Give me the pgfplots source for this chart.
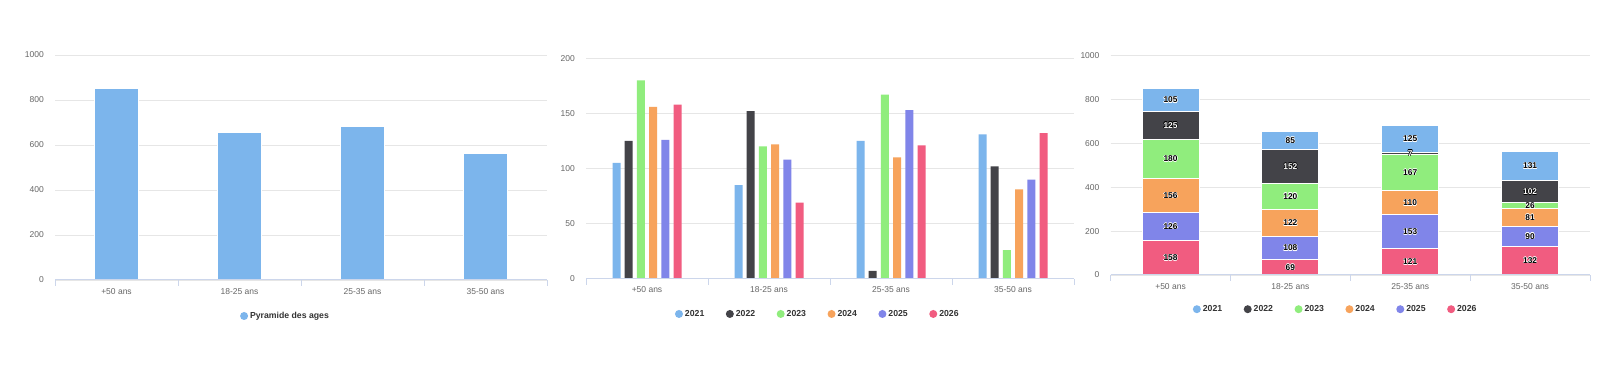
\documentclass[border=0pt]{standalone}
\usepackage{fontspec}
\setmainfont{Liberation Sans}
\usepackage{pgfplots}
\pgfplotsset{compat=1.18}
\usepackage{pgfplotstable}
\definecolor{c21}{HTML}{7CB5EC}
\definecolor{c22}{HTML}{434348}
\definecolor{c23}{HTML}{90ED7D}
\definecolor{c24}{HTML}{F7A35C}
\definecolor{c25}{HTML}{8085E9}
\definecolor{c26}{HTML}{F15C80}
\definecolor{gridc}{HTML}{E6E6E6}
\definecolor{axc}{HTML}{CCD6EB}
\definecolor{tickc}{HTML}{666666}
\definecolor{legc}{HTML}{333333}

\newcommand\olt[3]{%
  \rlap{\kern-0.45pt\textcolor{#2}{#3}}%
  \rlap{\kern0.45pt\textcolor{#2}{#3}}%
  \rlap{\raisebox{0.45pt}{\textcolor{#2}{#3}}}%
  \rlap{\raisebox{-0.45pt}{\textcolor{#2}{#3}}}%
  \rlap{\kern0.32pt\raisebox{0.32pt}{\textcolor{#2}{#3}}}%
  \rlap{\kern-0.32pt\raisebox{0.32pt}{\textcolor{#2}{#3}}}%
  \rlap{\kern0.32pt\raisebox{-0.32pt}{\textcolor{#2}{#3}}}%
  \rlap{\kern-0.32pt\raisebox{-0.32pt}{\textcolor{#2}{#3}}}%
  \textcolor{#1}{#3}}

\pgfplotstableread{
idx total y2021 y2022 y2023 y2024 y2025 y2026
0 850 105 125 180 156 126 158
1 656 85 152 120 122 108 69
2 683 125 7 167 110 153 121
3 562 131 102 26 81 90 132
}\agedata

\pgfplotsset{
  circleleg/.style={legend image code/.code={\fill[##1, draw=none] (0pt,0pt) circle (4pt);}},
  common/.style={
    scale only axis, anchor=south west,
    xmin=-0.5, xmax=3.5, ymin=0,
    axis line style={draw=none},
    ymajorgrids, grid style={gridc, line width=0.8pt},
    xtick={-0.5,0.5,1.5,2.5,3.5},
    xticklabels={+50 ans,18-25 ans,25-35 ans,35-50 ans},
    x tick label as interval,
    xtick pos=left, ytick pos=left,
    tick align=outside, major tick length=6pt,
    xtick style={draw=axc, line width=0.8pt},
    ytick style={draw=none},
    tick label style={font=\fontsize{8.5}{10}\selectfont, text=tickc},
    xticklabel style={inner sep=0pt, yshift=-2pt},
    yticklabel style={inner sep=0pt, xshift=-5pt},
    after end axis/.code={\draw[axc, line width=1pt] (rel axis cs:0,0) -- (rel axis cs:1,0);},
    legend style={draw=none, fill=none, legend columns=-1,
      font=\bfseries\fontsize{8.7}{10}\selectfont, text=legc, anchor=center,
      /tikz/every even column/.append style={column sep=19.5pt}},
    every axis plot post/.append style={circleleg},
  }
}

\begin{document}
\begin{tikzpicture}
\fill[white] (0,0) rectangle (1603pt,377pt);
\useasboundingbox (0,0) rectangle (1603pt,377pt);

% Chart 1
\begin{axis}[common,
  at={(55pt,97pt)}, width=492pt, height=225pt,
  ymax=1000, ytick={0,200,400,600,800,1000},
  yticklabels={0,200,400,600,800,1000},
  ybar, bar width=44pt,
  legend style={at={(0.4685,-0.160)}},
]
\addplot[fill=c21, draw=white, line width=0.5pt] table[x=idx,y=total]{\agedata};
\addlegendentry{Pyramide des ages}
\end{axis}

% Chart 2
\begin{axis}[common,
  at={(586pt,98.3pt)}, width=488pt, height=220.4pt,
  ymax=200, ytick={0,50,100,150,200},
  yticklabels={0,50,100,150,200},
  ybar=4.2pt, bar width=8pt,
  legend style={at={(0.475,-0.160)}},
]
\addplot[fill=c21, draw=none] table[x=idx,y=y2021]{\agedata};
\addlegendentry{2021}
\addplot[fill=c22, draw=none] table[x=idx,y=y2022]{\agedata};
\addlegendentry{2022}
\addplot[fill=c23, draw=none] table[x=idx,y=y2023]{\agedata};
\addlegendentry{2023}
\addplot[fill=c24, draw=none] table[x=idx,y=y2024]{\agedata};
\addlegendentry{2024}
\addplot[fill=c25, draw=none] table[x=idx,y=y2025]{\agedata};
\addlegendentry{2025}
\addplot[fill=c26, draw=none] table[x=idx,y=y2026]{\agedata};
\addlegendentry{2026}
\end{axis}

% Chart 3
\begin{axis}[common,
  at={(1110.6pt,102pt)}, width=479.4pt, height=219.3pt,
  ymax=1000, ytick={0,200,400,600,800,1000},
  yticklabels={0,200,400,600,800,1000},
  ybar stacked, bar width=57pt,
  reverse legend,
  legend style={at={(0.4695,-0.156)}},
  point meta=explicit symbolic,
  every node near coord/.append style={font=\bfseries\fontsize{8.4}{10}\selectfont,
    anchor=center, inner sep=0pt},
]
\addplot[fill=c26, draw=white, line width=1pt,
  nodes near coords={\olt{black}{white}{\pgfplotspointmeta}}] table[x=idx,y=y2026,meta=y2026]{\agedata};
\addlegendentry{2026}
\addplot[fill=c25, draw=white, line width=1pt,
  nodes near coords={\olt{black}{white}{\pgfplotspointmeta}}] table[x=idx,y=y2025,meta=y2025]{\agedata};
\addlegendentry{2025}
\addplot[fill=c24, draw=white, line width=1pt,
  nodes near coords={\olt{black}{white}{\pgfplotspointmeta}}] table[x=idx,y=y2024,meta=y2024]{\agedata};
\addlegendentry{2024}
\addplot[fill=c23, draw=white, line width=1pt,
  nodes near coords={\olt{black}{white}{\pgfplotspointmeta}}] table[x=idx,y=y2023,meta=y2023]{\agedata};
\addlegendentry{2023}
\addplot[fill=c22, draw=white, line width=1pt,
  nodes near coords={\olt{white}{black}{\pgfplotspointmeta}}] table[x=idx,y=y2022,meta=y2022]{\agedata};
\addlegendentry{2022}
\addplot[fill=c21, draw=white, line width=1pt,
  nodes near coords={\olt{black}{white}{\pgfplotspointmeta}}] table[x=idx,y=y2021,meta=y2021]{\agedata};
\addlegendentry{2021}
\end{axis}
\end{tikzpicture}
\end{document}
